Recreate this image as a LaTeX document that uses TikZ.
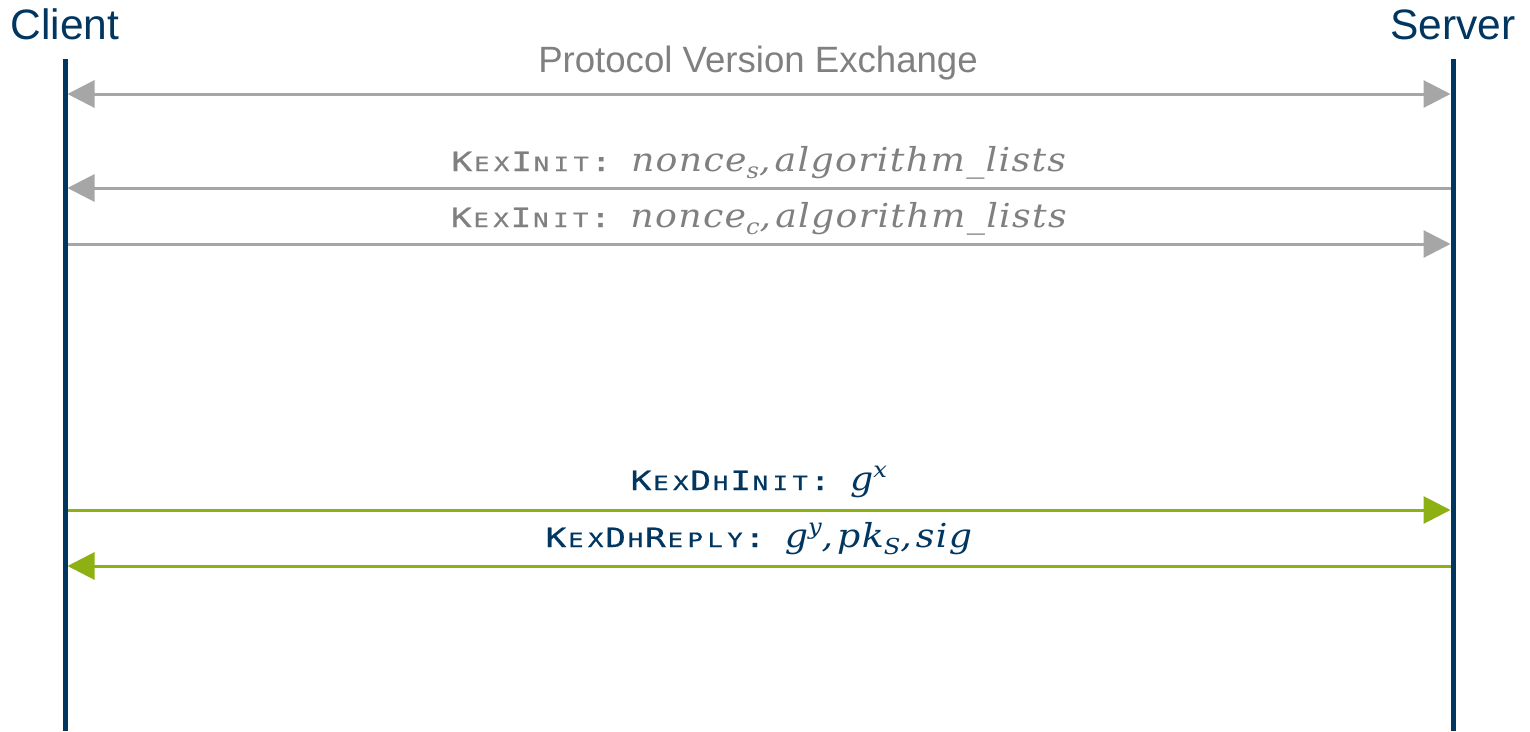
\documentclass[tikz,border=0pt]{standalone}
\usepackage{fontspec}
\setmainfont{Liberation Sans}
\newfontfamily\monofont[FakeStretch=1.3,FakeBold=0.6]{DejaVu Sans Mono}
\newfontfamily\mathserif[FakeStretch=1.1,LetterSpace=4]{DejaVu Serif}
\usetikzlibrary{arrows.meta}

\definecolor{lifeblue}{RGB}{0,54,96}
\definecolor{msggray}{RGB}{166,166,166}
\definecolor{labelgray}{RGB}{128,128,128}
\definecolor{dhgreen}{RGB}{141,176,19}

% letters of a message name, each kept on the monospace grid
\newcommand\bgl[1]{\makebox[19.9pt][c]{#1}}
\newcommand\scl[1]{\makebox[19.9pt][c]{\fontsize{19.8}{19.8}\selectfont #1}}
\newcommand\cell{\makebox[19.9pt]{}}
\newcommand\msgname[1]{{\fontsize{26.5}{26.5}\selectfont\monofont #1\cell}}
\newcommand\mi[1]{{\fontsize{33}{33}\selectfont\mathserif\itshape #1}}
\newcommand\lowidx[1]{\raisebox{-7pt}{\fontsize{22}{22}\selectfont #1}}
\newcommand\highidx[1]{\raisebox{13pt}{\fontsize{22}{22}\selectfont #1}}
\newcommand\sep{,\hspace{4pt}}

\begin{document}
\begin{tikzpicture}[x=1pt,y=-1pt,
  party/.style={anchor=base,inner sep=0pt,text=lifeblue,font=\fontsize{42.5}{42.5}\selectfont},
  lifeline/.style={draw=lifeblue,line width=5pt},
  msglabel/.style={anchor=base,inner sep=0pt},
  tip/.style={-{Triangle[length=27pt,width=27pt]}},
  bothtips/.style={{Triangle[length=27pt,width=27pt]}-{Triangle[length=27pt,width=27pt]}},
  msg/.style={line width=3pt,shorten <=2.5pt,shorten >=2.5pt},
  plainmsg/.style={msg,draw=msggray,fill=msggray},
  dhmsg/.style={msg,draw=dhgreen,fill=dhgreen}]
\useasboundingbox (0,0) rectangle (1530,731);

% participants and lifelines
\node[party] (client) at (65,39) {Client};
\node[party] (server) at (1453,39) {Server};
\coordinate (c top) at (65,59);
\coordinate (c bot) at (65,731);
\coordinate (s top) at (1453,59);
\coordinate (s bot) at (1453,731);

% message end points on the lifelines
\coordinate (c1) at (65,94);   \coordinate (s1) at (1453,94);
\coordinate (c2) at (65,188);  \coordinate (s2) at (1453,188);
\coordinate (c3) at (65,244);  \coordinate (s3) at (1453,244);
\coordinate (c4) at (65,510);  \coordinate (s4) at (1453,510);
\coordinate (c5) at (65,566);  \coordinate (s5) at (1453,566);

% messages
\draw[plainmsg,bothtips] (c1) -- (s1);
\draw[plainmsg,tip] (s2) -- (c2);
\draw[plainmsg,tip] (c3) -- (s3);
\draw[dhmsg,tip] (c4) -- (s4);
\draw[dhmsg,tip] (s5) -- (c5);

\draw[lifeline] (c top) -- (c bot);
\draw[lifeline] (s top) -- (s bot);

% labels
\node[msglabel,text=labelgray,font=\fontsize{36.6}{36.6}\selectfont] (l1) at (758,72)
  {Protocol Version Exchange};
\node[msglabel,text=labelgray] (l2) at (759,171)
  {\msgname{\bgl{K}\scl{E}\scl{X}\bgl{I}\scl{N}\scl{I}\scl{T}\bgl{:}}\mi{nonce\lowidx{s}\sep algorithm\_lists}};
\node[msglabel,text=labelgray] (l3) at (759,227)
  {\msgname{\bgl{K}\scl{E}\scl{X}\bgl{I}\scl{N}\scl{I}\scl{T}\bgl{:}}\mi{nonce\lowidx{c}\sep algorithm\_lists}};
\node[msglabel,text=lifeblue] (l4) at (759,490)
  {\msgname{\bgl{K}\scl{E}\scl{X}\bgl{D}\scl{H}\bgl{I}\scl{N}\scl{I}\scl{T}\bgl{:}}\mi{g\highidx{x}}};
\node[msglabel,text=lifeblue] (l5) at (759,547)
  {\msgname{\bgl{K}\scl{E}\scl{X}\bgl{D}\scl{H}\bgl{R}\scl{E}\scl{P}\scl{L}\scl{Y}\bgl{:}}\mi{g\highidx{y}\sep pk\lowidx{S}\sep sig}};
\end{tikzpicture}
\end{document}
